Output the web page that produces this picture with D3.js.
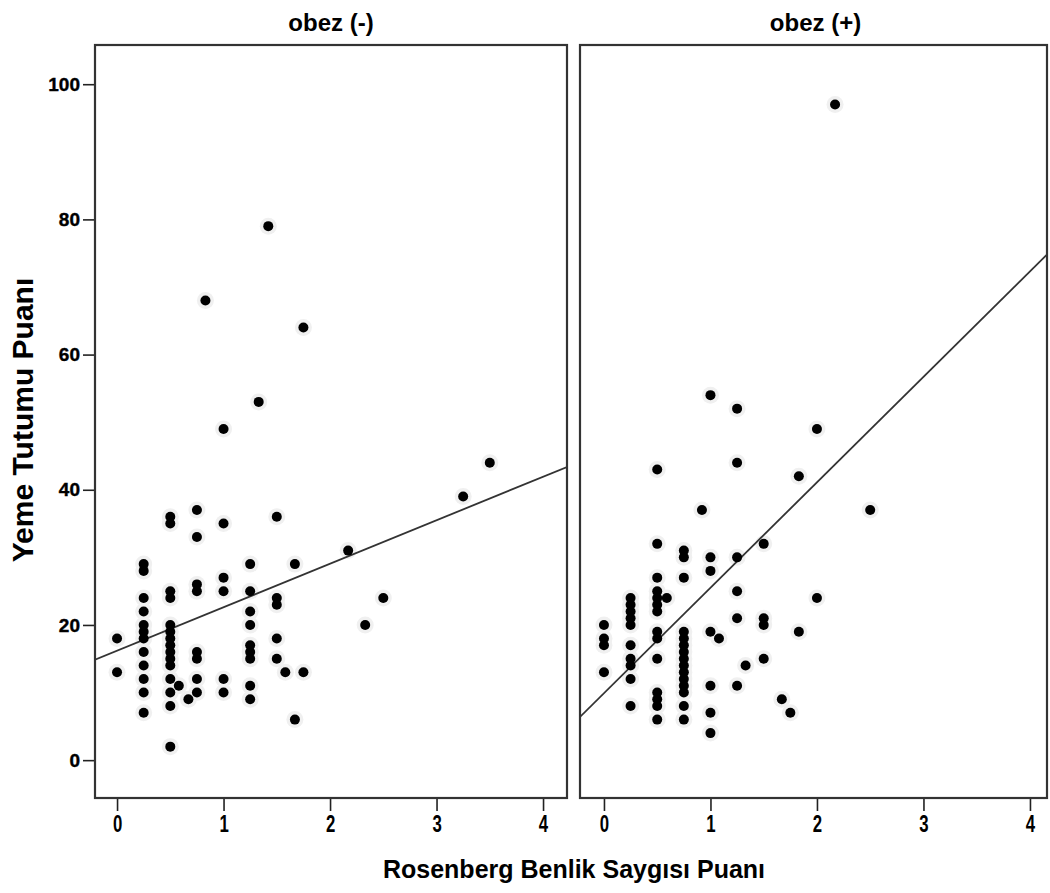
<!DOCTYPE html>
<html>
<head>
<meta charset="utf-8">
<script src="https://cdn.jsdelivr.net/npm/d3@7"></script>
<style>
  body { margin: 0; background: #fff; }
  text { font-family: "Liberation Sans", Arial, sans-serif; font-weight: bold; fill: #000; }
</style>
</head>
<body>
<svg id="chart" width="1050" height="893"></svg>
<script>
// panel titles and axis text
var panelTitles = ["obez (-)", "obez (+)"];
var xTicks = [0, 1, 2, 3, 4];
var yTicks = [0, 20, 40, 60, 80, 100];
var xTitle = "Rosenberg Benlik Saygısı Puanı";
var yTitle = "Yeme Tutumu Puanı";

// obez (-) : [rosenberg, yeme tutumu]
var negPoints = [
  [0, 18], [0, 13],
  [0.25, 29], [0.25, 28], [0.25, 24], [0.25, 22], [0.25, 20], [0.25, 19], [0.25, 18],
  [0.25, 16], [0.25, 14], [0.25, 12], [0.25, 10], [0.25, 7],
  [0.5, 36], [0.5, 35], [0.5, 25], [0.5, 24], [0.5, 20], [0.5, 19], [0.5, 18], [0.5, 17],
  [0.5, 16], [0.5, 15], [0.5, 14], [0.5, 12], [0.5, 10], [0.5, 8], [0.5, 2],
  [0.58, 11], [0.67, 9],
  [0.75, 37], [0.75, 33], [0.75, 26], [0.75, 25], [0.75, 16], [0.75, 15], [0.75, 12], [0.75, 10],
  [0.83, 68],
  [1, 49], [1, 35], [1, 27], [1, 25], [1, 12], [1, 10],
  [1.25, 29], [1.25, 25], [1.25, 22], [1.25, 20], [1.25, 17], [1.25, 16], [1.25, 15], [1.25, 11], [1.25, 9],
  [1.33, 53], [1.42, 79],
  [1.5, 36], [1.5, 24], [1.5, 23], [1.5, 18], [1.5, 15],
  [1.58, 13], [1.67, 29], [1.67, 6], [1.75, 64], [1.75, 13],
  [2.17, 31], [2.33, 20], [2.5, 24], [3.25, 39], [3.5, 44]
];

// obez (+)
var posPoints = [
  [0, 20], [0, 18], [0, 17], [0, 13],
  [0.25, 24], [0.25, 23], [0.25, 22], [0.25, 21], [0.25, 20], [0.25, 17], [0.25, 15],
  [0.25, 14], [0.25, 12], [0.25, 8],
  [0.5, 43], [0.5, 32], [0.5, 27], [0.5, 25], [0.5, 24], [0.5, 23], [0.5, 22], [0.5, 19],
  [0.5, 18], [0.5, 15], [0.5, 10], [0.5, 9], [0.5, 8], [0.5, 6],
  [0.59, 24],
  [0.75, 31], [0.75, 30], [0.75, 27], [0.75, 19], [0.75, 18], [0.75, 17], [0.75, 16], [0.75, 15],
  [0.75, 14], [0.75, 13], [0.75, 12], [0.75, 11], [0.75, 10], [0.75, 8], [0.75, 6],
  [0.92, 37],
  [1, 54], [1, 30], [1, 28], [1, 19], [1, 11], [1, 7], [1, 4],
  [1.08, 18],
  [1.25, 52], [1.25, 44], [1.25, 30], [1.25, 25], [1.25, 21], [1.25, 11],
  [1.33, 14],
  [1.5, 32], [1.5, 21], [1.5, 20], [1.5, 15],
  [1.67, 9], [1.75, 7], [1.83, 42], [1.83, 19], [2, 49], [2, 24], [2.17, 97], [2.5, 37]
];

// fitted lines: [intercept, slope]
var negFit = [16.2, 6.43];
var posFit = [9.9, 15.6];

var svg = d3.select("#chart");
var plotTop = 45, plotBottom = 798;

var y = d3.scaleLinear().domain([-5.6, 105.8]).range([plotBottom, plotTop]);

var panels = [
  {title: panelTitles[0], pts: negPoints, fit: negFit, left: 95, right: 567, dom: [-0.207, 4.225]},
  {title: panelTitles[1], pts: posPoints, fit: posFit, left: 580, right: 1047, dom: [-0.225, 4.16]}
];

panels.forEach(function(p, i) {
  var x = d3.scaleLinear().domain(p.dom).range([p.left, p.right]);
  var g = svg.append("g");

  // clip for the fit line
  svg.append("clipPath").attr("id", "clip" + i)
    .append("rect")
    .attr("x", p.left).attr("y", plotTop)
    .attr("width", p.right - p.left).attr("height", plotBottom - plotTop);

  // x axis
  var xAxis = g.append("g")
    .attr("transform", "translate(0," + plotBottom + ")")
    .call(d3.axisBottom(x).tickValues(xTicks).tickSize(13).tickPadding(4).tickFormat(d3.format("d")));
  xAxis.select(".domain").remove();
  xAxis.selectAll(".tick line").attr("stroke", "#222").attr("stroke-width", 1.6);
  xAxis.selectAll(".tick text")
    .attr("font-size", 24)
    .attr("font-family", "'Liberation Sans', Arial, sans-serif")
    .attr("font-weight", "bold")
    .attr("transform", "scale(0.7,1)");

  if (i == 0) {
    var yAxis = g.append("g")
      .attr("transform", "translate(" + p.left + ",0)")
      .call(d3.axisLeft(y).tickValues(yTicks).tickSize(12).tickPadding(3));
    yAxis.select(".domain").remove();
    yAxis.selectAll(".tick line").attr("stroke", "#222").attr("stroke-width", 1.6);
    yAxis.selectAll(".tick text")
      .attr("font-size", 19)
      .attr("font-family", "'Liberation Sans', Arial, sans-serif")
      .attr("font-weight", "bold")
      .attr("stroke", "#000").attr("stroke-width", 0.4);
  }

  // frame
  g.append("rect")
    .attr("x", p.left).attr("y", plotTop)
    .attr("width", p.right - p.left).attr("height", plotBottom - plotTop)
    .attr("fill", "none").attr("stroke", "#333").attr("stroke-width", 2.2);

  // light halo behind markers
  g.selectAll("circle.halo").data(p.pts).enter().append("circle")
    .attr("class", "halo")
    .attr("cx", function(d) { return x(d[0]); })
    .attr("cy", function(d) { return y(d[1]); })
    .attr("r", 8.5)
    .attr("fill", "#f0f0f0");

  // fit line
  g.append("line")
    .attr("clip-path", "url(#clip" + i + ")")
    .attr("x1", x(p.dom[0])).attr("y1", y(p.fit[0] + p.fit[1] * p.dom[0]))
    .attr("x2", x(p.dom[1])).attr("y2", y(p.fit[0] + p.fit[1] * p.dom[1]))
    .attr("stroke", "#333").attr("stroke-width", 1.8);

  // points
  g.selectAll("circle.pt").data(p.pts).enter().append("circle")
    .attr("class", "pt")
    .attr("cx", function(d) { return x(d[0]); })
    .attr("cy", function(d) { return y(d[1]); })
    .attr("r", 5)
    .attr("fill", "#000");

  // panel title
  svg.append("text")
    .attr("x", (p.left + p.right) / 2 + (i == 0 ? 0 : 2))
    .attr("y", 31)
    .attr("text-anchor", "middle")
    .attr("font-size", 24)
    .text(p.title);
});

// axis titles
svg.append("text")
  .attr("x", 574).attr("y", 878)
  .attr("text-anchor", "middle")
  .attr("font-size", 25)
  .text(xTitle);

svg.append("text")
  .attr("transform", "translate(33,420) rotate(-90)")
  .attr("text-anchor", "middle")
  .attr("font-size", 30)
  .text(yTitle);
</script>
</body>
</html>
